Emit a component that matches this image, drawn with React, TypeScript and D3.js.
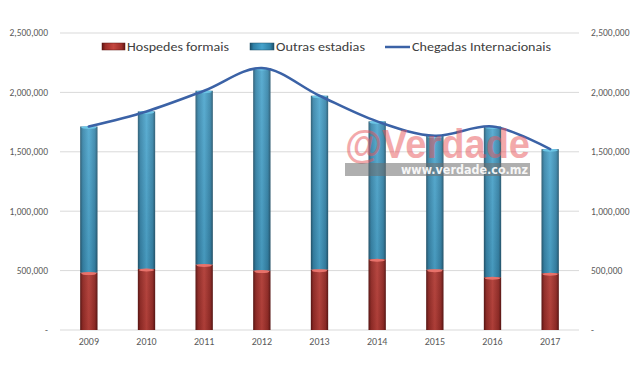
import React from "react";
import * as d3 from "d3";

const years = ["2009", "2010", "2011", "2012", "2013", "2014", "2015", "2016", "2017"];
const hospedesFormais = [483000, 514000, 551000, 500000, 508000, 596000, 508000, 444000, 478000];
const outrasEstadias = [1230000, 1326000, 1463000, 1705000, 1464000, 1160000, 1127000, 1269000, 1044000];
const chegadas = [1713000, 1840000, 2014000, 2205000, 1972000, 1756000, 1635000, 1713000, 1522000];
const yTicks = [0, 500000, 1000000, 1500000, 2000000, 2500000];

const W = 640;
const H = 366;
const plot = { left: 60, right: 579, top: 33, bottom: 330 };

const fmt = (v: number) => (v === 0 ? "-" : d3.format(",")(v));

export default function App() {
  const x = d3
    .scaleBand()
    .domain(years)
    .range([plot.left, plot.right])
    .paddingInner(0.7)
    .paddingOuter(0.35);
  const y = d3.scaleLinear().domain([0, 2500000]).range([plot.bottom, plot.top]);

  const line = d3
    .line<number>()
    .x((_, i) => (x(years[i]) as number) + x.bandwidth() / 2)
    .y((d) => y(d))
    .curve(d3.curveCatmullRom.alpha(0.5));

  const font = "Calibri, Carlito, 'Liberation Sans', Arial, sans-serif";

  return (
    <svg width={W} height={H} style={{ position: "absolute", left: 0, top: 0 }}>
      <defs>
        <linearGradient id="red" x1="0" x2="1" y1="0" y2="0">
          <stop offset="0" stopColor="#5e1513" />
          <stop offset="0.15" stopColor="#9c2e29" />
          <stop offset="0.5" stopColor="#c4463f" />
          <stop offset="0.85" stopColor="#9c2e29" />
          <stop offset="1" stopColor="#5e1513" />
        </linearGradient>
        <linearGradient id="blue" x1="0" x2="1" y1="0" y2="0">
          <stop offset="0" stopColor="#1c4f68" />
          <stop offset="0.15" stopColor="#2f80a6" />
          <stop offset="0.5" stopColor="#46a3cc" />
          <stop offset="0.85" stopColor="#2f80a6" />
          <stop offset="1" stopColor="#1c4f68" />
        </linearGradient>
        <linearGradient id="shade" x1="0" x2="0" y1="0" y2="1">
          <stop offset="0" stopColor="#ffffff" stopOpacity="0.12" />
          <stop offset="1" stopColor="#000000" stopOpacity="0.12" />
        </linearGradient>
      </defs>
      <rect width={W} height={H} fill="#ffffff" />

      {yTicks.map((t) => (
        <g key={t}>
          <line x1={plot.left} x2={plot.right} y1={y(t)} y2={y(t)} stroke="#d9d9d9" strokeWidth={1} />
          <text x={48} y={y(t)} dy="0.35em" textAnchor="end" fontSize={9.5} fill="#595959" fontFamily={font}>
            {fmt(t)}
          </text>
          <text x={591} y={y(t)} dy="0.35em" textAnchor="start" fontSize={9.5} fill="#595959" fontFamily={font}>
            {fmt(t)}
          </text>
        </g>
      ))}

      {years.map((yr, i) => {
        const bx = x(yr) as number;
        const bw = x.bandwidth();
        const redTop = y(hospedesFormais[i]);
        const blueTop = y(hospedesFormais[i] + outrasEstadias[i]);
        return (
          <g key={yr}>
            <rect x={bx} y={blueTop} width={bw} height={redTop - blueTop} fill="url(#blue)" />
            <rect x={bx} y={redTop} width={bw} height={plot.bottom - redTop} fill="url(#red)" />
            <rect x={bx} y={blueTop} width={bw} height={plot.bottom - blueTop} fill="url(#shade)" />
            <ellipse cx={bx + bw / 2} cy={redTop + 1} rx={bw / 2 - 1} ry={1.5} fill="#e8726b" />
            <ellipse cx={bx + bw / 2} cy={blueTop + 1} rx={bw / 2 - 1} ry={1.5} fill="#6cc6e6" />
            <text x={bx + bw / 2} y={341} dy="0.35em" textAnchor="middle" fontSize={10} fill="#595959" fontFamily={font}>
              {yr}
            </text>
          </g>
        );
      })}

      <path d={line(chegadas) || ""} fill="none" stroke="#3b62a6" strokeWidth={2.6} strokeLinecap="round" />

      {/* watermark */}
      <g opacity={0.5}>
        <text x={345} y={158} fontSize={40} fontWeight="bold" fill="#e8555a" fontFamily="'Liberation Sans', Arial, sans-serif" textLength={185} lengthAdjust="spacingAndGlyphs">
          @Verdade
        </text>
      </g>
      <rect x={345} y={163} width={185} height={13} fill="#6e6e6e" opacity={0.55} />
      <text x={401} y={174} fontSize={12} fontWeight="bold" fill="#ffffff" fontFamily="'DejaVu Sans', sans-serif" textLength={127} lengthAdjust="spacingAndGlyphs" opacity={0.9}>
        www.verdade.co.mz
      </text>

      {/* legend */}
      <g fontFamily={font} fontSize={12.5} fill="#404040">
        <rect x={102} y={43} width={23} height={7} fill="url(#red)" stroke="#5e1513" strokeWidth={0.5} />
        <text x={127} y={47} dy="0.35em" textLength={102} lengthAdjust="spacingAndGlyphs">Hospedes formais</text>
        <rect x={250} y={43} width={24} height={7} fill="url(#blue)" stroke="#1c4f68" strokeWidth={0.5} />
        <text x={276} y={47} dy="0.35em" textLength={89} lengthAdjust="spacingAndGlyphs">Outras estadias</text>
        <line x1={385} x2={410} y1={47} y2={47} stroke="#3b62a6" strokeWidth={2.5} />
        <text x={412} y={47} dy="0.35em" textLength={139} lengthAdjust="spacingAndGlyphs">Chegadas Internacionais</text>
      </g>
    </svg>
  );
}
